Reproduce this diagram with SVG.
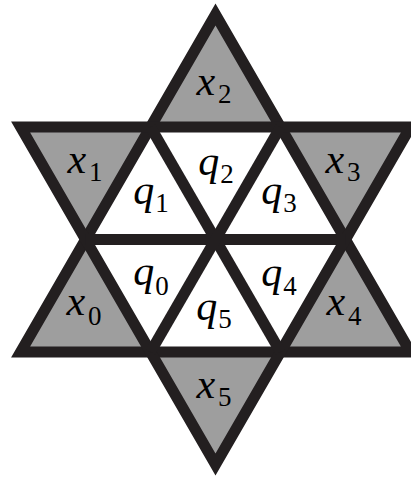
<svg xmlns="http://www.w3.org/2000/svg" width="411" height="477" viewBox="0 0 411 477">
<style>
.g{fill:#9e9e9e;stroke:none}
.w{fill:#ffffff;stroke:none}
.ln{fill:none;stroke:#231f20;stroke-width:11;stroke-linejoin:miter;stroke-miterlimit:10;stroke-linecap:butt}
</style>
<rect width="411" height="477" fill="#ffffff"/>
<g font-family="'Liberation Serif', 'Times New Roman', serif" font-size="42" fill="#000000" text-anchor="middle">
<g id="x2"><polygon class="g" points="215.5,14.5 150.5,127 280.5,127"/><text x="214" y="95"><tspan font-style="italic">x</tspan><tspan font-size="27" dx="3" dy="8">2</tspan></text></g>
<g id="x1"><polygon class="g" points="20.6,127 150.5,127 85.5,239.5"/><text x="85" y="173"><tspan font-style="italic">x</tspan><tspan font-size="27" dx="3" dy="8">1</tspan></text></g>
<g id="x3"><polygon class="g" points="280.5,127 410.4,127 345.5,239.5"/><text x="343" y="173"><tspan font-style="italic">x</tspan><tspan font-size="27" dx="3" dy="8">3</tspan></text></g>
<g id="x0"><polygon class="g" points="85.5,239.5 150.5,352 20.6,352"/><text x="84" y="315"><tspan font-style="italic">x</tspan><tspan font-size="27" dx="3" dy="10">0</tspan></text></g>
<g id="x4"><polygon class="g" points="345.5,239.5 410.4,352 280.5,352"/><text x="344" y="315"><tspan font-style="italic">x</tspan><tspan font-size="27" dx="3" dy="10">4</tspan></text></g>
<g id="x5"><polygon class="g" points="150.5,352 280.5,352 215.5,464.5"/><text x="214" y="398"><tspan font-style="italic">x</tspan><tspan font-size="27" dx="3" dy="8">5</tspan></text></g>
<g id="q1"><polygon class="w" points="150.5,127 85.5,239.5 215.5,239.5"/><text x="151" y="204"><tspan font-style="italic">q</tspan><tspan font-size="27" dx="1" dy="8">1</tspan></text></g>
<g id="q2"><polygon class="w" points="150.5,127 280.5,127 215.5,239.5"/><text x="216" y="175"><tspan font-style="italic">q</tspan><tspan font-size="27" dx="1" dy="8">2</tspan></text></g>
<g id="q3"><polygon class="w" points="280.5,127 345.5,239.5 215.5,239.5"/><text x="279" y="204"><tspan font-style="italic">q</tspan><tspan font-size="27" dx="1" dy="8">3</tspan></text></g>
<g id="q4"><polygon class="w" points="215.5,239.5 345.5,239.5 280.5,352"/><text x="279" y="286"><tspan font-style="italic">q</tspan><tspan font-size="27" dx="1" dy="9">4</tspan></text></g>
<g id="q5"><polygon class="w" points="215.5,239.5 150.5,352 280.5,352"/><text x="214" y="320"><tspan font-style="italic">q</tspan><tspan font-size="27" dx="1" dy="8">5</tspan></text></g>
<g id="q0"><polygon class="w" points="85.5,239.5 215.5,239.5 150.5,352"/><text x="151" y="285"><tspan font-style="italic">q</tspan><tspan font-size="27" dx="1" dy="10">0</tspan></text></g>
</g>
<g id="connectors">
<polygon class="ln" points="215.5,14.5 410.4,352 20.6,352"/>
<polygon class="ln" points="20.6,127 410.4,127 215.5,464.5"/>
<line class="ln" x1="85.5" y1="239.5" x2="345.5" y2="239.5"/>
<line class="ln" x1="150.5" y1="127" x2="280.5" y2="352"/>
<line class="ln" x1="280.5" y1="127" x2="150.5" y2="352"/>
</g>
</svg>
